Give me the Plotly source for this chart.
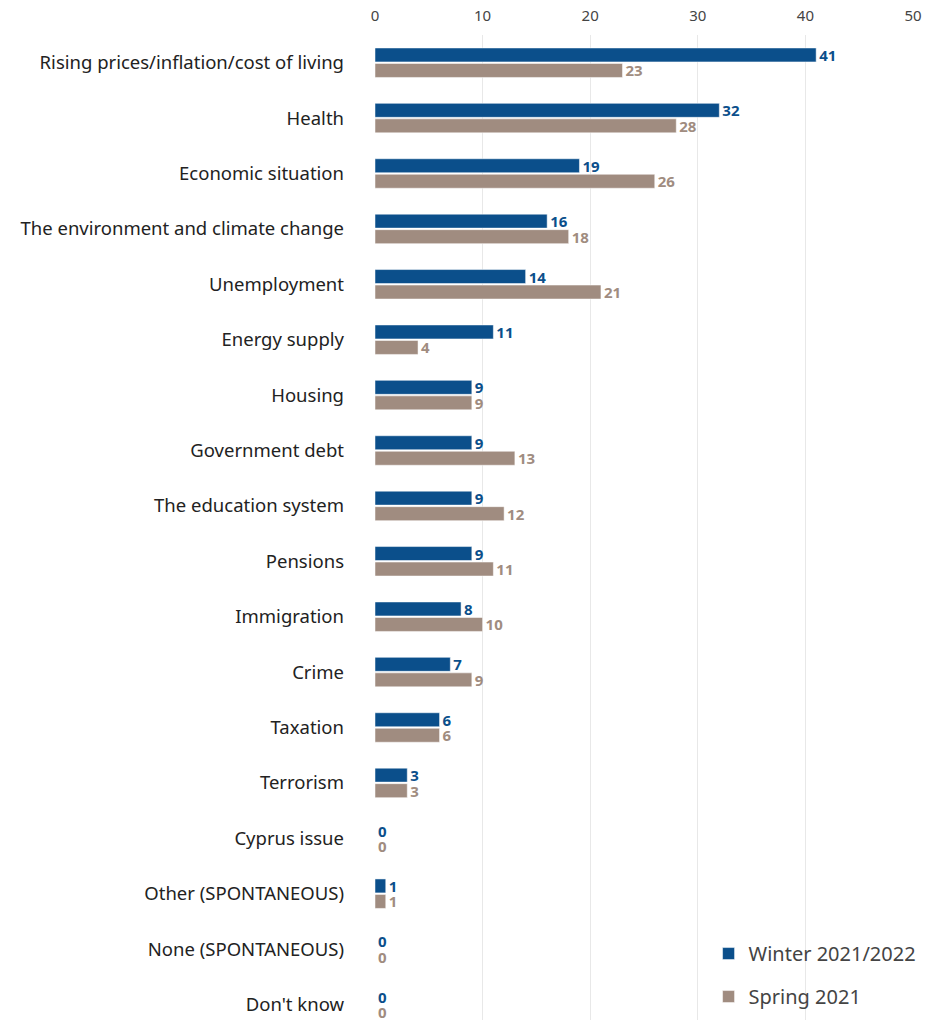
import plotly.graph_objects as go

categories = [
    "Rising prices/inflation/cost of living", "Health", "Economic situation",
    "The environment and climate change", "Unemployment", "Energy supply",
    "Housing", "Government debt", "The education system", "Pensions",
    "Immigration", "Crime", "Taxation", "Terrorism", "Cyprus issue",
    "Other (SPONTANEOUS)", "None (SPONTANEOUS)", "Don't know",
]
winter = [41, 32, 19, 16, 14, 11, 9, 9, 9, 9, 8, 7, 6, 3, 0, 1, 0, 0]
spring = [23, 28, 26, 18, 21, 4, 9, 13, 12, 11, 10, 9, 6, 3, 0, 1, 0, 0]
series_names = ["Winter 2021/2022", "Spring 2021"]
colors = ["#0b4f8b", "#a08c80"]
x_ticks = [0, 10, 20, 30, 40, 50]

fig = go.Figure()
for name, vals, col, grp in [(series_names[0], winter, colors[0], "a"),
                             (series_names[1], spring, colors[1], "b")]:
    fig.add_trace(go.Bar(
        y=categories, x=vals, name=name, orientation="h",
        marker=dict(color=col, line=dict(color="white", width=0.5)),
        text=[str(v) for v in vals], textposition="outside",
        constraintext="none",
        textfont=dict(family="Open Sans", size=15, color=col, weight="bold"),
        cliponaxis=False, legendgroup=grp,
    ))

fig.update_layout(
    width=935, height=1020,
    margin=dict(l=375, r=22, t=35, b=0),
    plot_bgcolor="white", paper_bgcolor="white",
    barmode="group", bargap=0.44, bargroupgap=0.1,
    font=dict(family="Noto Sans", color="#222"),
    xaxis=dict(side="top", range=[0, 50], tickvals=x_ticks,
               showgrid=True, gridcolor="#e8e8e8", gridwidth=1,
               zeroline=False, showline=False,
               tickfont=dict(size=15, color="#444"), ticks="",
               ticklabelstandoff=10),
    yaxis=dict(autorange=False, range=[17.28, -0.5],
               tickfont=dict(size=18.5, color="#222"),
               ticks="", ticklabelstandoff=30, showgrid=False),
    legend=dict(x=0.62, y=0.004, xanchor="left", yanchor="bottom",
                font=dict(size=20, color="#444"), traceorder="grouped",
                tracegroupgap=14, bgcolor="rgba(0,0,0,0)"),
    showlegend=True,
)
fig.write_html("out.html")
